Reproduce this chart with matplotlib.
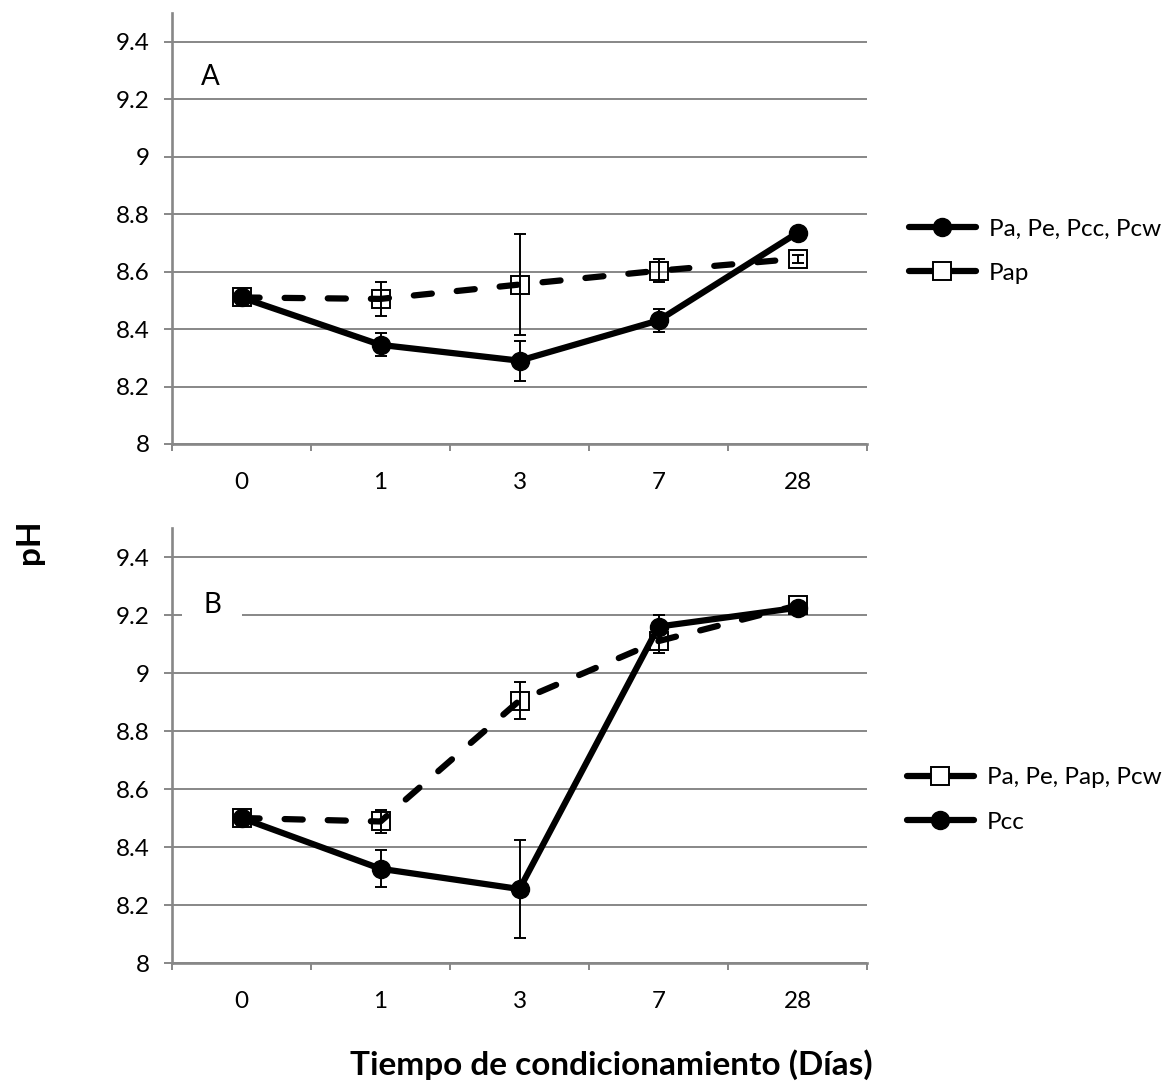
import numpy as np
import matplotlib
matplotlib.use("Agg")
import matplotlib.pyplot as plt
from matplotlib.lines import Line2D

plt.rcParams['font.family'] = ['Lato', 'DejaVu Sans']

# Conditioning time categories (days)
days = ['0', '1', '3', '7', '28']

# Panel A
a_solid = [8.51, 8.345, 8.29, 8.43, 8.735]
a_solid_err = [0.0, 0.04, 0.07, 0.04, 0.0]
a_dash = [8.51, 8.505, 8.555, 8.603, 8.645]
a_dash_err = [0.0, 0.06, 0.175, 0.04, 0.014]
a_labels = ['Pa, Pe, Pcc, Pcw', 'Pap']

# Panel B
b_dash = [8.50, 8.488, 8.905, 9.11, 9.233]
b_dash_err = [0.0, 0.04, 0.065, 0.04, 0.0]
b_solid = [8.50, 8.325, 8.255, 9.16, 9.225]
b_solid_err = [0.0, 0.063, 0.17, 0.04, 0.0]
b_labels = ['Pa, Pe, Pap, Pcw', 'Pcc']

W, H = 1169, 1082
GRAY = '#878787'
FS = 17.5

fig = plt.figure(figsize=(W / 100, H / 100), dpi=100)
axA = fig.add_axes([172 / W, 1 - 444 / H, 695 / W, 431 / H])
axB = fig.add_axes([172 / W, 1 - 963 / H, 695 / W, 435 / H])

x = np.arange(len(days))
yt = np.round(np.arange(8.0, 9.41, 0.2), 1)

LW = 4.5
MS = 13
DASH = (0, (2.9, 4.0))


def style_axes(ax):
    ax.set_xlim(-0.5, len(days) - 0.5)
    ax.set_ylim(8.0, 9.5)
    ax.set_yticks(yt)
    ax.set_yticklabels([f'{v:g}' for v in yt])
    ax.set_xticks(x)
    ax.set_xticklabels(days)
    ax.set_xticks(np.arange(-0.5, len(days), 1.0), minor=True)
    ax.tick_params(axis='x', which='major', length=0, pad=20, labelsize=FS)
    ax.tick_params(axis='x', which='minor', length=5, width=1.4, color=GRAY)
    ax.tick_params(axis='y', which='major', length=6, width=1.4, color=GRAY,
                   pad=10, labelsize=FS)
    ax.yaxis.grid(True, color=GRAY, lw=1.4)
    ax.set_axisbelow(True)
    for s in ('top', 'right'):
        ax.spines[s].set_visible(False)
    for s in ('left', 'bottom'):
        ax.spines[s].set_color(GRAY)
        ax.spines[s].set_linewidth(1.9)


def solid_series(ax, y, err):
    ax.plot(x, y, color='black', lw=LW, marker='o', ms=MS, mfc='black',
            mec='black', solid_capstyle='round', solid_joinstyle='round', zorder=3)
    ax.errorbar(x, y, yerr=err, fmt='none', ecolor='black', elinewidth=1.4,
                capsize=4.5, capthick=1.4, zorder=5)


def dash_series(ax, y, err):
    ax.plot(x, y, color='black', lw=LW, ls=DASH, dash_capstyle='round',
            marker='s', ms=MS, mfc='none', mec='black', mew=1.4, zorder=4)
    ax.errorbar(x, y, yerr=err, fmt='none', ecolor='black', elinewidth=1.4,
                capsize=4.5, capthick=1.4, zorder=5)


style_axes(axA)
solid_series(axA, a_solid, a_solid_err)
dash_series(axA, a_dash, a_dash_err)

style_axes(axB)
solid_series(axB, b_solid, b_solid_err)
dash_series(axB, b_dash, b_dash_err)

h_solid = Line2D([], [], color='black', lw=LW, marker='o', ms=MS,
                 mfc='black', mec='black', solid_capstyle='round')
h_dash = Line2D([], [], color='black', lw=LW, marker='s', ms=MS,
                mfc='white', mec='black', mew=1.4, solid_capstyle='round')

leg_kw = dict(loc='center left', frameon=False, fontsize=FS, handlelength=2.75,
              handletextpad=0.55, borderpad=0, borderaxespad=0, labelspacing=0.95,
              bbox_transform=fig.transFigure)
fig.legend([h_solid, h_dash], a_labels, bbox_to_anchor=(909 / W, 1 - 251 / H), **leg_kw)
fig.legend([h_dash, h_solid], b_labels, bbox_to_anchor=(907 / W, 1 - 800 / H), **leg_kw)

box = dict(boxstyle='square,pad=0.75', fc='white', ec='none')
fig.text(210 / W, 1 - 77 / H, 'A', ha='center', va='center', fontsize=20)
fig.text(212 / W, 1 - 605 / H, 'B', ha='center', va='center', fontsize=20, bbox=box)

fig.text(30 / W, 1 - 542 / H, 'pH', rotation=90, ha='center', va='center',
         fontsize=24, fontweight='bold')
fig.text(350 / W, 1 - 1075 / H, 'Tiempo de condicionamiento (Días)', ha='left',
         va='baseline', fontsize=24, fontweight='bold')

fig.savefig('out.png', dpi=100)
